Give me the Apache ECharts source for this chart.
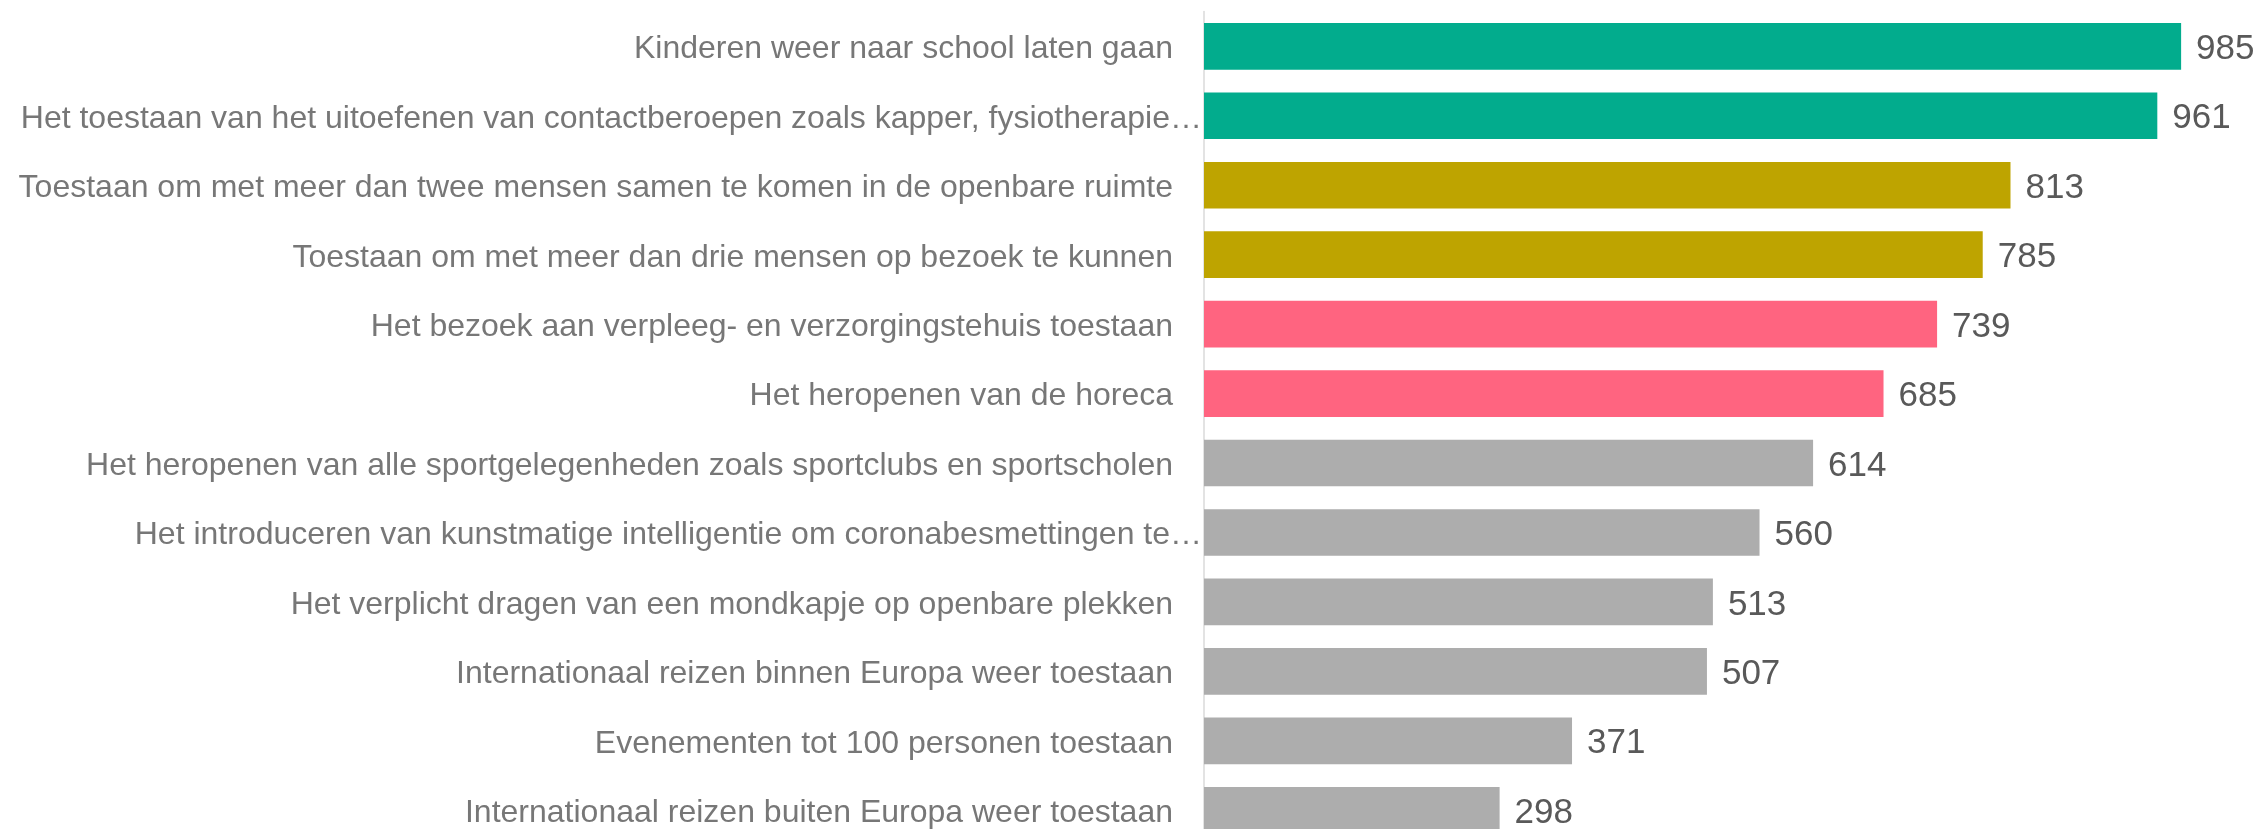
<!DOCTYPE html>
<html>
<head>
<meta charset="utf-8">
<style>
    html, body { margin: 0; padding: 0; background: #fff; }
    #chart { width: 2262px; height: 829px; }
</style>
<script src="https://cdn.jsdelivr.net/npm/echarts@6/dist/echarts.min.js"></script>
</head>
<body>
<div id="chart"></div>
<script>
// categories, top to bottom as shown
const categories = [
    'Kinderen weer naar school laten gaan',
    'Het toestaan van het uitoefenen van contactberoepen zoals kapper, fysiotherapie…',
    'Toestaan om met meer dan twee mensen samen te komen in de openbare ruimte',
    'Toestaan om met meer dan drie mensen op bezoek te kunnen',
    'Het bezoek aan verpleeg- en verzorgingstehuis toestaan',
    'Het heropenen van de horeca',
    'Het heropenen van alle sportgelegenheden zoals sportclubs en sportscholen',
    'Het introduceren van kunstmatige intelligentie om coronabesmettingen te…',
    'Het verplicht dragen van een mondkapje op openbare plekken',
    'Internationaal reizen binnen Europa weer toestaan',
    'Evenementen tot 100 personen toestaan',
    'Internationaal reizen buiten Europa weer toestaan',
]
const values = [985, 961, 813, 785, 739, 685, 614, 560, 513, 507, 371, 298]
// colour group of each bar (0 = teal, 1 = olive, 2 = pink, 3 = grey)
const groups = [0, 0, 1, 1, 2, 2, 3, 3, 3, 3, 3, 3]

const palette = ['#02ac8d', '#bea400', '#ff6480', '#adadad']
const font = '"Liberation Sans", Arial, sans-serif'

const chart = echarts.init(document.getElementById('chart'))

const option = {
    animation: false,
    grid: {
        left: 1204,
        top: 11.6,
        width: 992,
        height: 833.4, // runs past the bottom edge, last bar is cut off like in the original
        outerBoundsMode: 'none',
        containLabel: false,
    },
    xAxis: {
        type: 'value',
        min: 0,
        max: 1000,
        show: false,
    },
    yAxis: {
        type: 'category',
        inverse: true,
        data: categories,
        axisTick: { show: false },
        axisLine: { show: true, lineStyle: { color: '#dadada', width: 1.5 } },
        axisLabel: {
            margin: 2,
            fontFamily: font,
            fontSize: 32,
            color: '#777777',
            // labels cut off with an ellipsis run up to the axis, the others keep a gap
            formatter: v => (v.endsWith('…') ? '{t|' + v + '}' : '{n|' + v + '}'),
            rich: {
                n: { fontFamily: font, fontSize: 32, color: '#777777', padding: [6, 29, 0, 0] },
                t: { fontFamily: font, fontSize: 32, color: '#777777', padding: [6, 0, 0, 0] },
            },
        },
    },
    series: [
        {
            type: 'bar',
            barCategoryGap: '32.8%',
            data: values.map((v, i) => ({
                value: v,
                itemStyle: { color: palette[groups[i]] },
            })),
            label: {
                show: true,
                position: 'right',
                distance: 15,
                offset: [0, 3],
                fontFamily: font,
                fontSize: 35,
                color: '#595959',
            },
        },
    ],
}

option && chart.setOption(option)
</script>
</body>
</html>
